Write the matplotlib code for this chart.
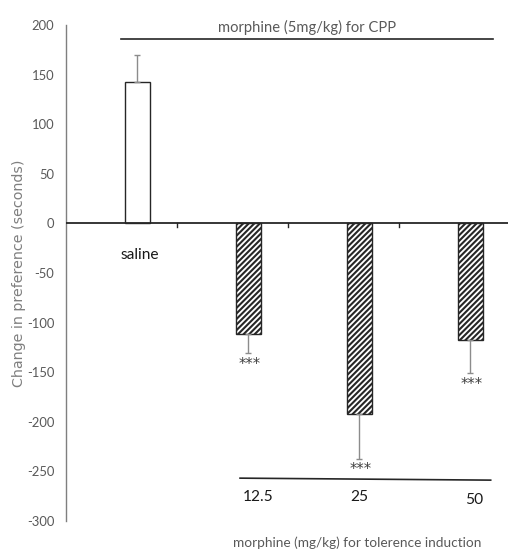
import numpy as np
import matplotlib.pyplot as plt

groups = ["saline", "12.5", "25", "50"]
means = [143, -111, -192, -118]
errors = [27, 20, 45, 33]
stars = ["", "***", "***", "***"]
y_ticks = [200, 150, 100, 50, 0, -50, -100, -150, -200, -250, -300]

label_font = ["Lato", "DejaVu Sans"]
grey_text = "#595959"

fig = plt.figure(figsize=(5.08, 5.52), dpi=100)
ax = fig.add_axes([66 / 508, 31 / 552, 444 / 508, 496 / 552])

x = np.arange(len(groups)) + 0.644
width = 0.225

hatch = [None if m > 0 else "//////" for m in means]
plt.rcParams["hatch.linewidth"] = 1.5
for xi, m, h in zip(x, means, hatch):
    ax.bar(xi, m, width, color="white", edgecolor="#262626", linewidth=1.0,
           hatch=h, zorder=2)

# one-sided error bars, away from zero
lower = [0 if m > 0 else e for m, e in zip(means, errors)]
upper = [e if m > 0 else 0 for m, e in zip(means, errors)]
ax.errorbar(x, means, yerr=[lower, upper], fmt="none", ecolor="#8c8c8c",
            elinewidth=1.0, capsize=2.5, capthick=1.0, zorder=3)

for xi, m, e, s in zip(x, means, errors, stars):
    if s:
        ax.text(xi + 0.01, m - e - 11, s, ha="center", va="center",
                fontsize=10.5, color="#404040", family="DejaVu Sans")

ax.set_xlim(0, 4)
ax.set_ylim(-300, 200)
ax.set_yticks(y_ticks)
ax.set_yticklabels([str(t) for t in y_ticks], family=label_font, fontsize=9.4,
                   color=grey_text)
ax.tick_params(axis="y", length=0, pad=8.5)

ax.spines["top"].set_visible(False)
ax.spines["right"].set_visible(False)
ax.spines["bottom"].set_visible(False)
ax.spines["left"].set_color("#7f7f7f")
ax.spines["left"].set_linewidth(1.0)

# x axis drawn at zero with category ticks
ax.axhline(0, color="#262626", linewidth=1.3, zorder=4)
ax.set_xticks([])
for b in [1, 2, 3]:
    ax.plot([b, b], [0, -4], color="#262626", linewidth=1.0, zorder=4)

ax.set_ylabel("Change in preference (seconds)", family="DejaVu Sans",
              fontsize=10.3, color="#7f7f7f", va="center")
ax.yaxis.set_label_coords(-47 / 444, 0.5)

# group labels
ax.text(x[0] + 0.02, -32, groups[0], ha="center", va="center", fontsize=11.2,
        color="#1a1a1a", family=label_font)
dose_x = [1.73, 2.64, 3.68]
dose_y = [-276, -276, -279]
for lbl, dx, dy in zip(groups[1:], dose_x, dose_y):
    ax.text(dx, dy, lbl, ha="center", va="center", fontsize=11.2,
            color="#1a1a1a", family=label_font)

# annotation brackets
ax.plot([0.495, 3.847], [185.6, 185.6], color="#262626", linewidth=1.2,
        clip_on=False)
ax.text(2.17, 190, "morphine (5mg/kg) for CPP", ha="center", va="bottom",
        fontsize=10.6, color=grey_text, family=label_font)
ax.plot([1.568, 3.826], [-256.8, -258.8], color="#262626", linewidth=1.2,
        clip_on=False)
fig.text(357 / 508, 1 - 543 / 552, "morphine (mg/kg) for tolerence induction",
         ha="center", va="center", fontsize=9.8, color=grey_text,
         family=label_font)

fig.savefig("out.png", dpi=100)
